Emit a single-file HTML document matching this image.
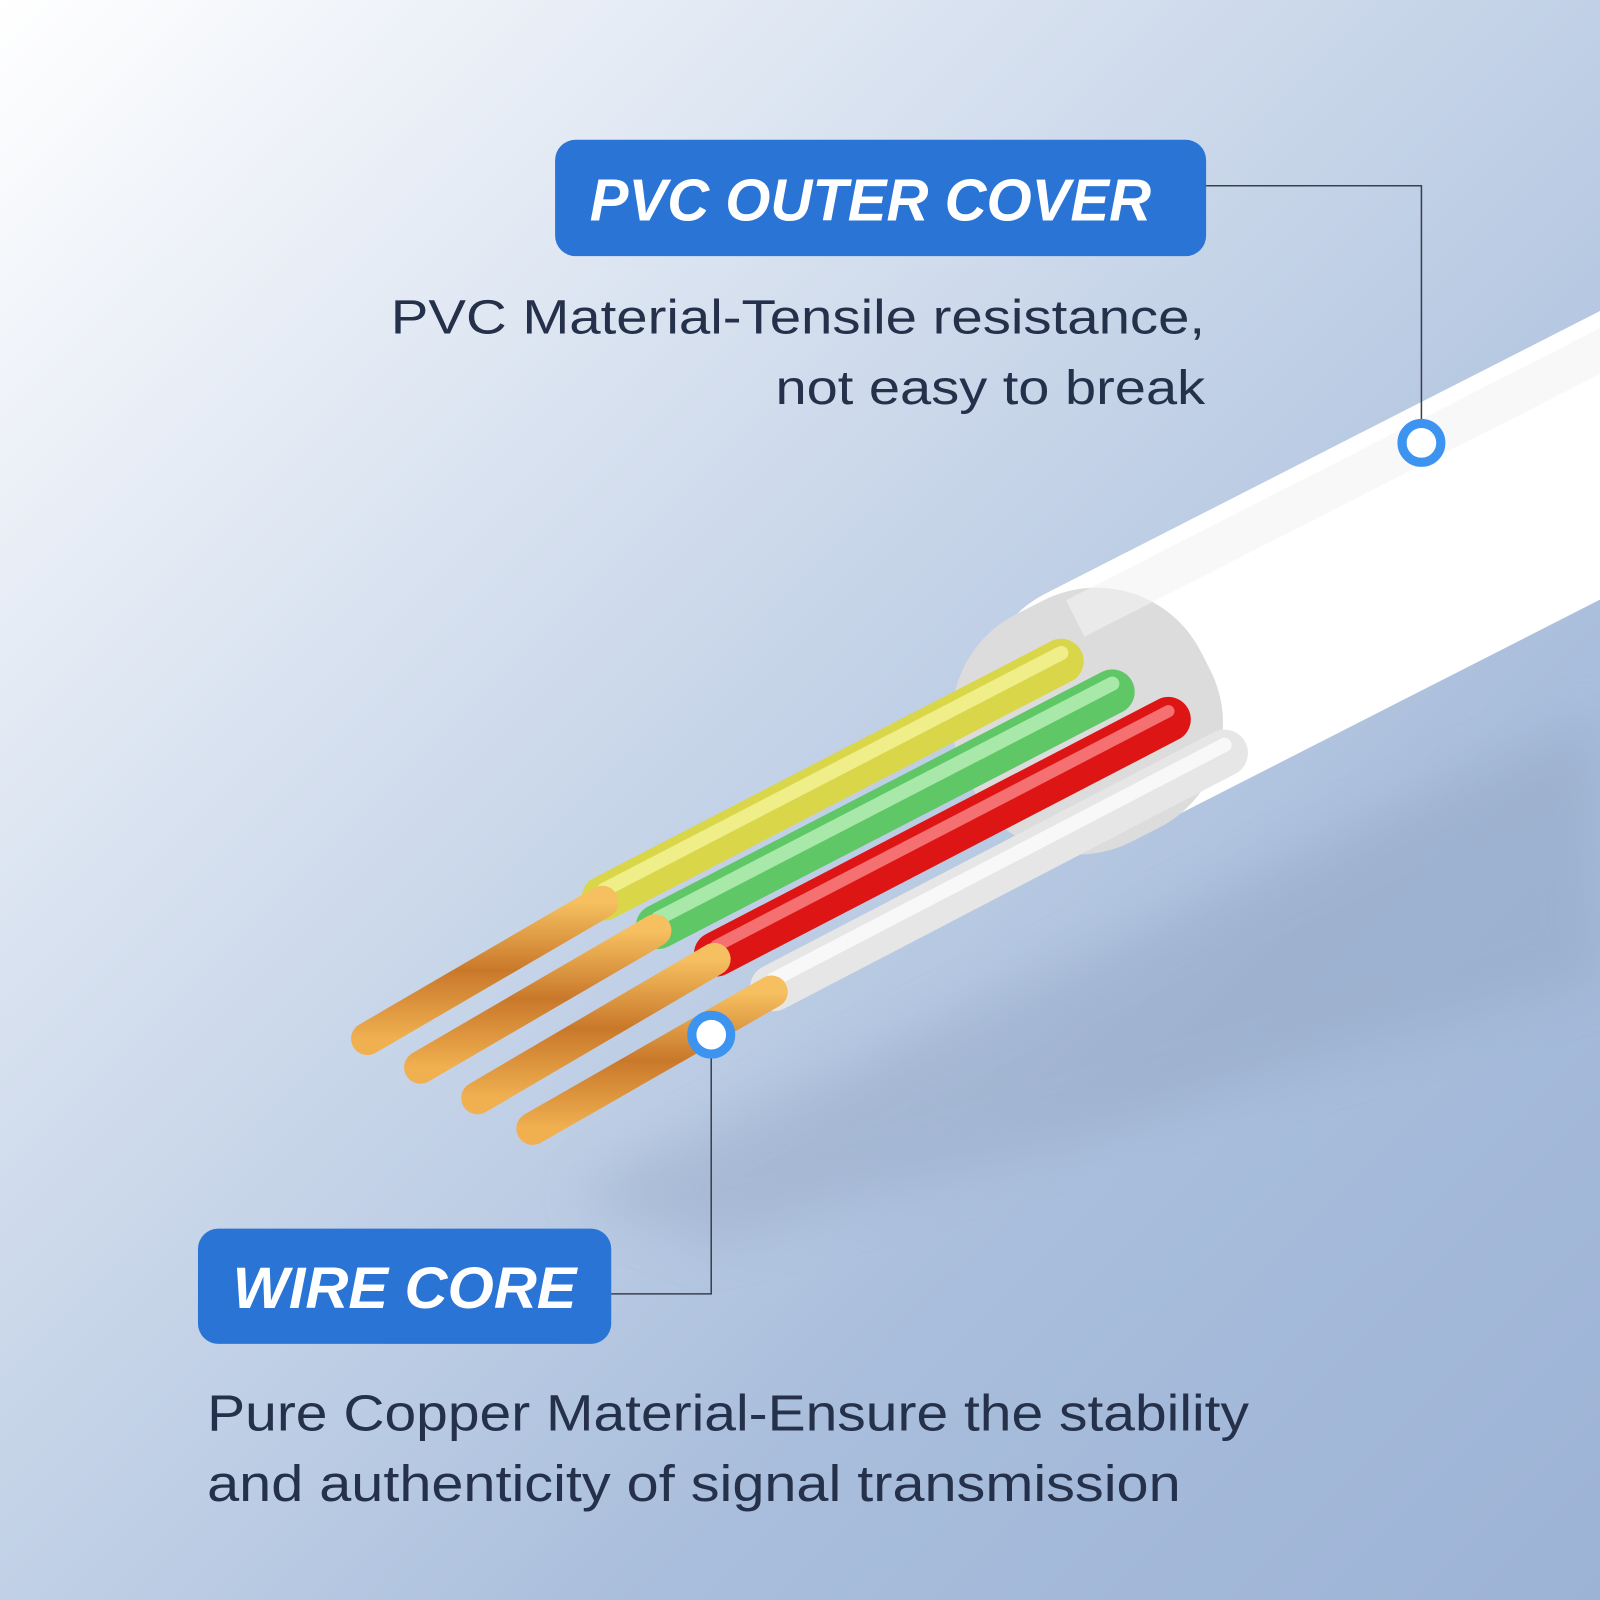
<!DOCTYPE html>
<html><head><meta charset="utf-8"><style>
html,body{margin:0;padding:0;width:1600px;height:1600px;overflow:hidden}
svg{display:block}
</style></head><body>
<svg width="1600" height="1600" viewBox="0 0 1568 1568" xmlns="http://www.w3.org/2000/svg">
<defs>
<linearGradient id="bg" x1="0" y1="0" x2="1" y2="1">
<stop offset="0" stop-color="#ffffff"/>
<stop offset="0.35" stop-color="#d3deee"/>
<stop offset="0.7" stop-color="#a9bedc"/>
<stop offset="1" stop-color="#9db3d6"/>
</linearGradient>
<linearGradient id="cu" x1="0" y1="0" x2="0" y2="1">
<stop offset="0" stop-color="#f6c060"/>
<stop offset="0.5" stop-color="#c9782a"/>
<stop offset="1" stop-color="#f0b050"/>
</linearGradient>
<filter id="blur"><feGaussianBlur stdDeviation="25"/></filter>
</defs>
<rect width="1568" height="1568" fill="url(#bg)"/>
<path d="M560 1170 L1568 700 L1568 960 L700 1220 Z" fill="#8496b4" opacity="0.28" filter="url(#blur)"/>
<g transform="rotate(-27 1100 697)">
<rect x="970" y="560" width="900" height="252" rx="115" fill="#ffffff"/>
<rect x="935" y="565" width="260" height="250" rx="115" fill="#dcdcdc"/>
<rect x="1100" y="575" width="800" height="40" fill="#f4f4f4" opacity="0.6"/>
</g>
<g stroke-linecap="round">
<line x1="592" y1="880" x2="1040" y2="648" stroke="#d9d64a" stroke-width="44"/>
<line x1="592" y1="872" x2="1040" y2="640" stroke="#efee88" stroke-width="14"/>
<line x1="645" y1="908" x2="1090" y2="678" stroke="#5fc766" stroke-width="44"/>
<line x1="645" y1="900" x2="1090" y2="670" stroke="#a8e8a8" stroke-width="14"/>
<line x1="702" y1="935" x2="1145" y2="705" stroke="#dd1515" stroke-width="44"/>
<line x1="702" y1="927" x2="1145" y2="697" stroke="#f57070" stroke-width="12"/>
<line x1="758" y1="968" x2="1200" y2="738" stroke="#e6e6e6" stroke-width="46"/>
<line x1="758" y1="960" x2="1200" y2="730" stroke="#f8f8f8" stroke-width="14"/>
</g>
<g stroke-linecap="round">
<line x1="360" y1="1018" x2="590" y2="884" stroke="url(#cu)" stroke-width="32"/>
<line x1="412" y1="1046" x2="642" y2="912" stroke="url(#cu)" stroke-width="32"/>
<line x1="468" y1="1076" x2="700" y2="940" stroke="url(#cu)" stroke-width="32"/>
<line x1="522" y1="1106" x2="756" y2="972" stroke="url(#cu)" stroke-width="32"/>
</g>
<rect x="544" y="137" width="638" height="114" rx="20" fill="#2a74d6"/>
<text x="578" y="216" textLength="550" lengthAdjust="spacingAndGlyphs" font-family="Liberation Sans, sans-serif" font-weight="bold" font-style="italic" font-size="58" fill="#fff">PVC OUTER COVER</text>
<polyline points="1182,182 1393,182 1393,412" fill="none" stroke="#3a4050" stroke-width="1.5"/>
<circle cx="1393" cy="434" r="19" fill="#fff" stroke="#3d93f0" stroke-width="9"/>
<text x="383" y="327" textLength="798" lengthAdjust="spacingAndGlyphs" font-family="Liberation Sans, sans-serif" font-size="47" fill="#25304a">PVC Material-Tensile resistance,</text>
<text x="760" y="396" textLength="421" lengthAdjust="spacingAndGlyphs" font-family="Liberation Sans, sans-serif" font-size="47" fill="#25304a">not easy to break</text>
<rect x="194" y="1204" width="405" height="113" rx="20" fill="#2a74d6"/>
<text x="228" y="1282" textLength="337" lengthAdjust="spacingAndGlyphs" font-family="Liberation Sans, sans-serif" font-weight="bold" font-style="italic" font-size="57" fill="#fff">WIRE CORE</text>
<polyline points="599,1268 697,1268 697,1036" fill="none" stroke="#3a4050" stroke-width="1.5"/>
<circle cx="697" cy="1014" r="19" fill="#fff" stroke="#3d93f0" stroke-width="9"/>
<text x="203" y="1402" textLength="1021" lengthAdjust="spacingAndGlyphs" font-family="Liberation Sans, sans-serif" font-size="50" fill="#25304a">Pure Copper Material-Ensure the stability</text>
<text x="203" y="1471" textLength="954" lengthAdjust="spacingAndGlyphs" font-family="Liberation Sans, sans-serif" font-size="50" fill="#25304a">and authenticity of signal transmission</text>
</svg>
</body></html>
